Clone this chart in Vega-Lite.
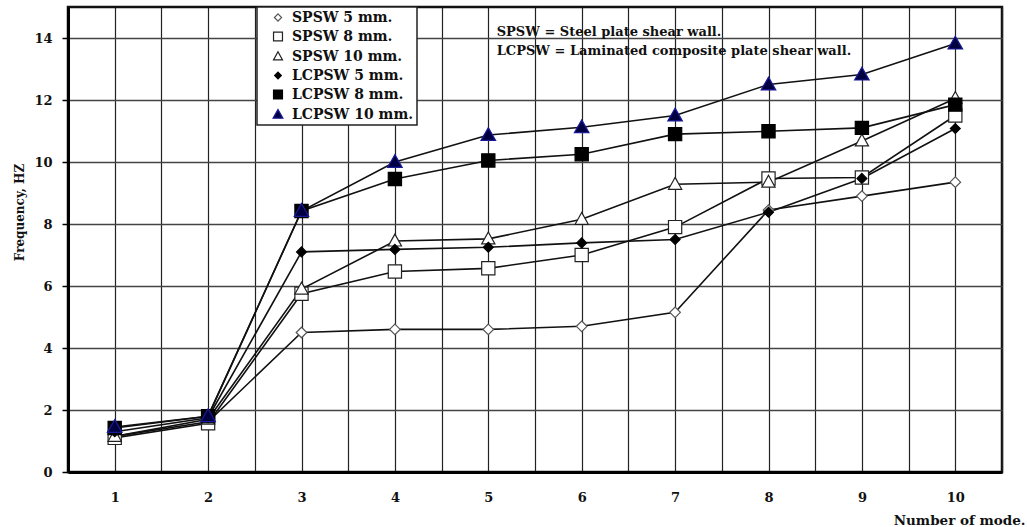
{
  "$schema": "https://vega.github.io/schema/vega-lite/v6.json",
  "width": 934,
  "height": 465,
  "autosize": {"type": "none"},
  "padding": {"left": 68, "top": 7, "right": 25, "bottom": 55},
  "background": "white",
  "config": {
    "view": {"stroke": "#111", "strokeWidth": 2.5},
    "font": "DejaVu Serif",
    "axis": {
      "domainColor": "#000",
      "domainWidth": 3,
      "labelFont": "DejaVu Serif",
      "labelFontWeight": "bold",
      "labelFontSize": 13,
      "labelColor": "#111",
      "titleFont": "DejaVu Serif",
      "titleFontWeight": "bold",
      "titleColor": "#111"
    },
    "legend": {"strokeWidth": 1.5}
  },
  "data": {
    "values": [
      {"series": "SPSW 5 mm.", "mode": 1, "freq": 1.15},
      {"series": "SPSW 5 mm.", "mode": 2, "freq": 1.62},
      {"series": "SPSW 5 mm.", "mode": 3, "freq": 4.5},
      {"series": "SPSW 5 mm.", "mode": 4, "freq": 4.6},
      {"series": "SPSW 5 mm.", "mode": 5, "freq": 4.6},
      {"series": "SPSW 5 mm.", "mode": 6, "freq": 4.7},
      {"series": "SPSW 5 mm.", "mode": 7, "freq": 5.15},
      {"series": "SPSW 5 mm.", "mode": 8, "freq": 8.45},
      {"series": "SPSW 5 mm.", "mode": 9, "freq": 8.9},
      {"series": "SPSW 5 mm.", "mode": 10, "freq": 9.35},
      {"series": "SPSW 8 mm.", "mode": 1, "freq": 1.1},
      {"series": "SPSW 8 mm.", "mode": 2, "freq": 1.57},
      {"series": "SPSW 8 mm.", "mode": 3, "freq": 5.75},
      {"series": "SPSW 8 mm.", "mode": 4, "freq": 6.47},
      {"series": "SPSW 8 mm.", "mode": 5, "freq": 6.57},
      {"series": "SPSW 8 mm.", "mode": 6, "freq": 7.0},
      {"series": "SPSW 8 mm.", "mode": 7, "freq": 7.9},
      {"series": "SPSW 8 mm.", "mode": 8, "freq": 9.47},
      {"series": "SPSW 8 mm.", "mode": 9, "freq": 9.5},
      {"series": "SPSW 8 mm.", "mode": 10, "freq": 11.5},
      {"series": "SPSW 10 mm.", "mode": 1, "freq": 1.15},
      {"series": "SPSW 10 mm.", "mode": 2, "freq": 1.7},
      {"series": "SPSW 10 mm.", "mode": 3, "freq": 5.9},
      {"series": "SPSW 10 mm.", "mode": 4, "freq": 7.45},
      {"series": "SPSW 10 mm.", "mode": 5, "freq": 7.52},
      {"series": "SPSW 10 mm.", "mode": 6, "freq": 8.15},
      {"series": "SPSW 10 mm.", "mode": 7, "freq": 9.28},
      {"series": "SPSW 10 mm.", "mode": 8, "freq": 9.35},
      {"series": "SPSW 10 mm.", "mode": 9, "freq": 10.68},
      {"series": "SPSW 10 mm.", "mode": 10, "freq": 12.05},
      {"series": "LCPSW 5 mm.", "mode": 1, "freq": 1.3},
      {"series": "LCPSW 5 mm.", "mode": 2, "freq": 1.75},
      {"series": "LCPSW 5 mm.", "mode": 3, "freq": 7.1},
      {"series": "LCPSW 5 mm.", "mode": 4, "freq": 7.18},
      {"series": "LCPSW 5 mm.", "mode": 5, "freq": 7.25},
      {"series": "LCPSW 5 mm.", "mode": 6, "freq": 7.39},
      {"series": "LCPSW 5 mm.", "mode": 7, "freq": 7.5},
      {"series": "LCPSW 5 mm.", "mode": 8, "freq": 8.38},
      {"series": "LCPSW 5 mm.", "mode": 9, "freq": 9.47},
      {"series": "LCPSW 5 mm.", "mode": 10, "freq": 11.08},
      {"series": "LCPSW 8 mm.", "mode": 1, "freq": 1.42},
      {"series": "LCPSW 8 mm.", "mode": 2, "freq": 1.8},
      {"series": "LCPSW 8 mm.", "mode": 3, "freq": 8.42},
      {"series": "LCPSW 8 mm.", "mode": 4, "freq": 9.45},
      {"series": "LCPSW 8 mm.", "mode": 5, "freq": 10.05},
      {"series": "LCPSW 8 mm.", "mode": 6, "freq": 10.25},
      {"series": "LCPSW 8 mm.", "mode": 7, "freq": 10.9},
      {"series": "LCPSW 8 mm.", "mode": 8, "freq": 10.99},
      {"series": "LCPSW 8 mm.", "mode": 9, "freq": 11.1},
      {"series": "LCPSW 8 mm.", "mode": 10, "freq": 11.85},
      {"series": "LCPSW 10 mm.", "mode": 1, "freq": 1.45},
      {"series": "LCPSW 10 mm.", "mode": 2, "freq": 1.8},
      {"series": "LCPSW 10 mm.", "mode": 3, "freq": 8.42},
      {"series": "LCPSW 10 mm.", "mode": 4, "freq": 10.0},
      {"series": "LCPSW 10 mm.", "mode": 5, "freq": 10.87},
      {"series": "LCPSW 10 mm.", "mode": 6, "freq": 11.12},
      {"series": "LCPSW 10 mm.", "mode": 7, "freq": 11.5},
      {"series": "LCPSW 10 mm.", "mode": 8, "freq": 12.5},
      {"series": "LCPSW 10 mm.", "mode": 9, "freq": 12.82},
      {"series": "LCPSW 10 mm.", "mode": 10, "freq": 13.82}
    ]
  },
  "encoding": {
    "x": {
      "field": "mode",
      "type": "quantitative",
      "scale": {"domain": [0.5, 10.5], "nice": false, "zero": false},
      "axis": {
        "values": [0.5, 1, 1.5, 2, 2.5, 3, 3.5, 4, 4.5, 5, 5.5, 6, 6.5, 7, 7.5, 8, 8.5, 9, 9.5, 10, 10.5],
        "labelExpr": "datum.value % 1 == 0 ? format(datum.value, 'd') : ''",
        "labelOverlap": false,
        "ticks": false,
        "labelPadding": 19,
        "grid": true,
        "gridColor": "#222",
        "gridWidth": 1.2,
        "title": "Number of mode.",
        "titleFontSize": 13.5,
        "titleAnchor": "end",
        "titleAlign": "right",
        "titleBaseline": "middle",
        "titleX": 957,
        "titleY": 48
      }
    },
    "y": {
      "field": "freq",
      "type": "quantitative",
      "scale": {"domain": [0, 15], "nice": false},
      "axis": {
        "values": [0, 2, 4, 6, 8, 10, 12, 14],
        "tickSize": 6,
        "tickColor": "#000",
        "tickWidth": 1.5,
        "labelPadding": 10,
        "grid": true,
        "gridColor": "#444",
        "gridWidth": 1.5,
        "title": "Frequency, HZ",
        "titleFontSize": 12,
        "titleAngle": 270,
        "titleAlign": "center",
        "titleBaseline": "alphabetic",
        "titleX": -45,
        "titleY": 205
      }
    }
  },
  "layer": [
    {
      "mark": {"type": "line", "color": "#111", "strokeWidth": 1.6},
      "encoding": {"detail": {"field": "series"}}
    },
    {
      "transform": [{"filter": "datum.series == 'SPSW 5 mm.' && datum.mode == 1"}],
      "mark": {
        "type": "text",
        "text": ["SPSW = Steel plate shear wall.", "LCPSW = Laminated  composite plate shear wall."],
        "align": "left",
        "baseline": "top",
        "lineHeight": 19,
        "font": "DejaVu Serif",
        "fontWeight": "bold",
        "fontSize": 13,
        "fill": "#111"
      },
      "encoding": {
        "x": {"datum": 5.09},
        "y": {"datum": 14.4}
      }
    },
    {
      "mark": {"type": "point", "filled": true, "size": 175, "strokeWidth": 1.2, "opacity": 1},
      "encoding": {
        "shape": {
          "field": "series",
          "type": "nominal",
          "scale": {
            "domain": ["SPSW 5 mm.", "SPSW 8 mm.", "SPSW 10 mm.", "LCPSW 5 mm.", "LCPSW 8 mm.", "LCPSW 10 mm."],
            "range": [
              "M0,-0.8L0.8,0L0,0.8L-0.8,0Z",
              "M-1,-1L1,-1L1,1L-1,1Z",
              "M0,-1.05L1,0.75L-1,0.75Z",
              "M0,-0.75L0.75,0L0,0.75L-0.75,0Z",
              "M-1,-1L1,-1L1,1L-1,1Z",
              "M0,-1.12L1.1,0.82L-1.1,0.82Z"
            ]
          },
          "legend": {
            "title": null,
            "orient": "none",
            "legendX": 189,
            "legendY": 0,
            "fillColor": "white",
            "strokeColor": "#222",
            "padding": 3.5,
            "symbolSize": 80,
            "symbolStrokeWidth": 1.2,
            "symbolOffset": 10.5,
            "labelOffset": 7,
            "rowPadding": 5,
            "labelFont": "DejaVu Serif",
            "labelFontWeight": "bold",
            "labelFontSize": 14,
            "labelColor": "#111",
            "labelLimit": 0
          }
        },
        "fill": {
          "field": "series",
          "type": "nominal",
          "scale": {
            "domain": ["SPSW 5 mm.", "SPSW 8 mm.", "SPSW 10 mm.", "LCPSW 5 mm.", "LCPSW 8 mm.", "LCPSW 10 mm."],
            "range": ["#ffffff", "#ffffff", "#ffffff", "#000000", "#000000", "#000040"]
          },
          "legend": null
        },
        "stroke": {
          "field": "series",
          "type": "nominal",
          "scale": {
            "domain": ["SPSW 5 mm.", "SPSW 8 mm.", "SPSW 10 mm.", "LCPSW 5 mm.", "LCPSW 8 mm.", "LCPSW 10 mm."],
            "range": ["#555555", "#222222", "#222222", "#000000", "#000000", "#1a1a99"]
          },
          "legend": null
        }
      }
    }
  ]
}
